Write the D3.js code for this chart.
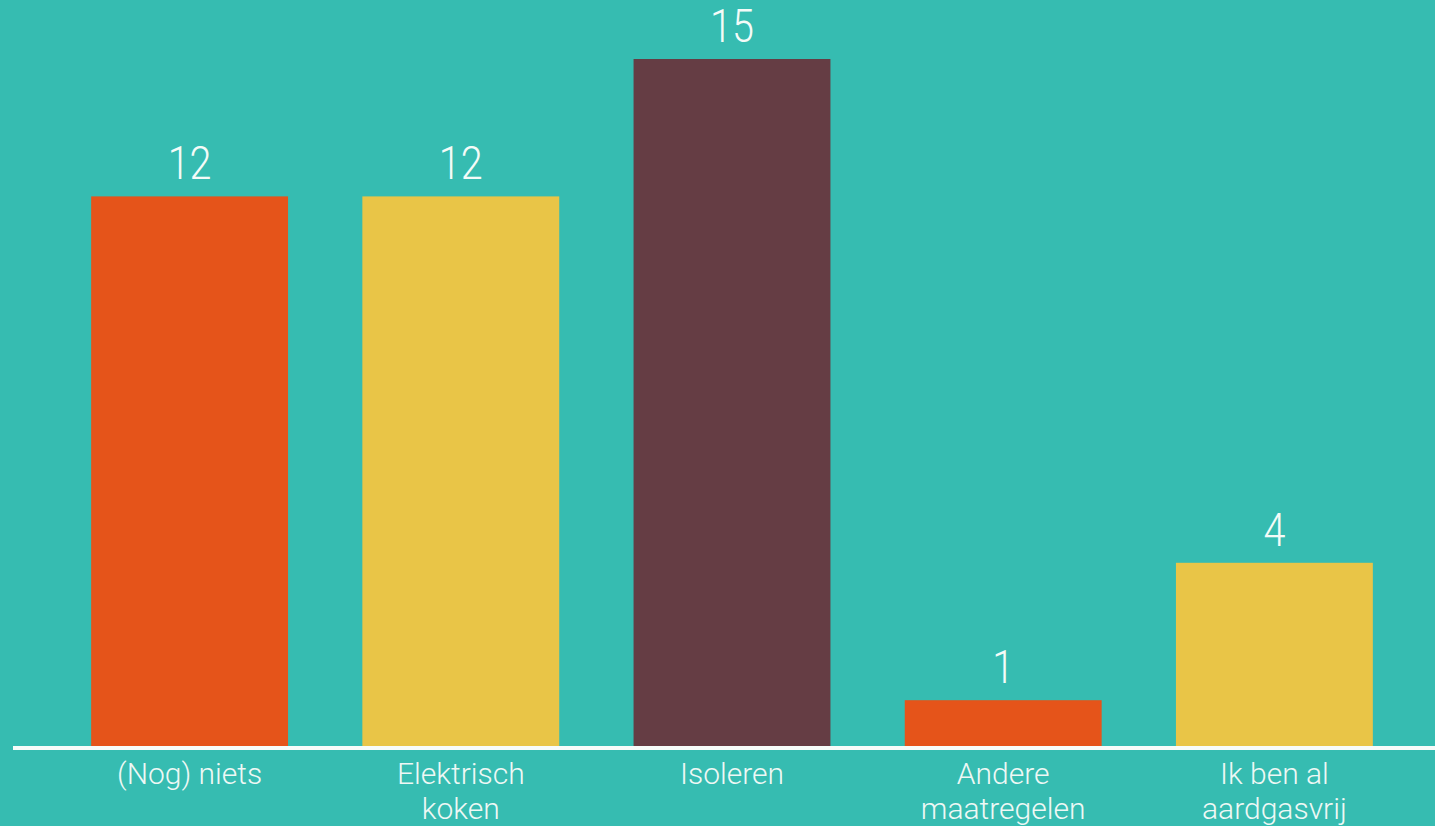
<!DOCTYPE html>
<html>
<head>
<meta charset="utf-8">
<script src="https://cdn.jsdelivr.net/npm/d3@7"></script>
<style>
  html, body { margin: 0; padding: 0; background: #36BCB1; overflow: hidden; }
  svg { display: block; }
</style>
</head>
<body>
<svg id="chart" width="1435" height="826"></svg>
<script>
const categories = ["(Nog) niets", "Elektrisch\nkoken", "Isoleren", "Andere\nmaatregelen", "Ik ben al\naardgasvrij"];
const values = [12, 12, 15, 1, 4];
const barColors = ["#E5541A", "#E9C547", "#653D44", "#E5541A", "#E9C547"];

const W = 1435, H = 826;
const svg = d3.select("#chart");
svg.append("rect").attr("width", W).attr("height", H).attr("fill", "#36BCB1");

const x = d3.scaleBand().domain(categories).range([54, 1410]).paddingInner(0.274).paddingOuter(0.137);
const y = d3.scaleLinear().domain([0, 15]).range([746, 59]);

const data = categories.map((c, i) => ({ c, v: values[i], col: barColors[i] }));

svg.selectAll("rect.bar").data(data).join("rect")
  .attr("class", "bar")
  .attr("x", d => x(d.c))
  .attr("width", x.bandwidth())
  .attr("y", d => y(d.v))
  .attr("height", d => y(0) - y(d.v))
  .attr("fill", d => d.col);

svg.selectAll("text.val").data(data).join("text")
  .attr("class", "val")
  .attr("transform", d => `translate(${x(d.c) + x.bandwidth() / 2},${y(d.v) - 17}) scale(0.86,1)`)
  .attr("text-anchor", "middle")
  .attr("font-family", "Roboto, sans-serif")
  .attr("font-weight", 300)
  .attr("font-size", 46)
  .attr("fill", "#F4FBF8")
  .text(d => d.v);

// baseline
const axis = d3.axisBottom(x).tickSize(0).tickFormat("");
const ax = svg.append("g").attr("transform", `translate(0,${y(0) + 2})`).call(axis);
ax.select(".domain").remove();
svg.append("line")
  .attr("x1", 13).attr("x2", W)
  .attr("y1", y(0) + 2).attr("y2", y(0) + 2)
  .attr("stroke", "#F7FCFA").attr("stroke-width", 4);

// category labels
const lbl = svg.selectAll("text.cat").data(data).join("text")
  .attr("class", "cat")
  .attr("x", d => x(d.c) + x.bandwidth() / 2)
  .attr("y", 784)
  .attr("text-anchor", "middle")
  .attr("font-family", "Roboto, sans-serif")
  .attr("font-weight", 300)
  .attr("font-size", 30)
  .attr("fill", "#EEF8F5");
lbl.each(function(d) {
  const lines = d.c.split("\n");
  d3.select(this).selectAll("tspan").data(lines).join("tspan")
    .attr("x", x(d.c) + x.bandwidth() / 2)
    .attr("dy", (l, i) => i === 0 ? 0 : 35)
    .text(l => l);
});
</script>
</body>
</html>
